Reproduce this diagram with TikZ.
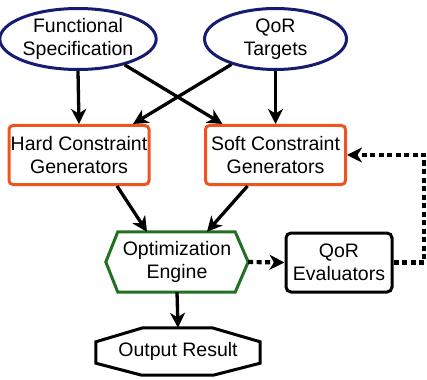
\documentclass[tikz,border=0pt]{standalone}
\usepackage{fontspec}
\setmainfont{Liberation Sans}
\usetikzlibrary{shapes.geometric,arrows.meta,calc}

\definecolor{navyline}{RGB}{24,28,112}
\definecolor{orangeline}{RGB}{240,84,30}
\definecolor{greenline}{RGB}{34,112,34}

\tikzset{
  lbl/.style={font=\fontsize{19.5}{23}\selectfont, align=center, inner sep=0pt},
  inputnode/.style={lbl, ellipse, draw=navyline, line width=3pt,
    minimum width=142pt, minimum height=61pt},
  genbox/.style={lbl, rectangle, rounded corners=4pt, draw=orangeline, line width=3pt,
    minimum width=140pt, minimum height=59pt},
  evalbox/.style={lbl, rectangle, rounded corners=5pt, draw=black, line width=3pt,
    minimum width=106pt, minimum height=59pt},
  plainbox/.style={lbl, minimum width=#1, minimum height=60pt},
  outline/.style={line width=3pt, line join=miter},
  flow/.style={line width=3.3pt, -{Stealth[length=15pt,width=15pt,inset=4.5pt]}},
  loopline/.style={line width=4.2pt, dash pattern=on 5pt off 3.5pt},
  looparrow/.style={loopline, -{Stealth[length=15pt,width=15pt,inset=4.5pt]}},
}

\begin{document}
\begin{tikzpicture}[x=1pt,y=-1pt]
  \useasboundingbox (0,0) rectangle (427,379);

  % inputs
  \node[inputnode] (func) at (78,39) {Functional\\Specification};
  \node[inputnode] (qor)  at (275.5,39) {QoR\\Targets};

  % constraint generators
  \node[genbox] (hard) at (79,155) {Hard Constraint\\Generators};
  \node[genbox] (soft) at (275.5,155) {Soft Constraint\\Generators};

  % optimization engine (hexagon drawn around its node)
  \node[plainbox=142pt] (opt) at (177,262) {Optimization\\Engine};
  \draw[outline, greenline]
    ([xshift=12pt]opt.north west) -- ([xshift=-13pt]opt.north east)
    -- (opt.east) -- ([xshift=-13pt]opt.south east)
    -- ([xshift=12pt]opt.south west) -- (opt.west) -- cycle;

  % evaluators
  \node[evalbox] (eval) at (339,262.5) {QoR\\Evaluators};

  % output (octagon drawn around its node)
  \node[lbl, minimum width=164pt, minimum height=47pt] (out) at (178,351.5) {Output Result};
  \draw[outline, black]
    ([xshift=47pt]out.north west) -- ([xshift=-48pt]out.north east)
    -- ([yshift=-14pt]out.north east) -- ([yshift=12pt]out.south east)
    -- ([xshift=-47pt]out.south east) -- ([xshift=46pt]out.south west)
    -- ([yshift=12pt]out.south west) -- ([yshift=-14pt]out.north west) -- cycle;

  % solid flow
  \draw[flow] (func.south) -- (hard.north);
  \draw[flow] (func.-29) -- ([xshift=-53pt]soft.north);
  \draw[flow] (qor.-150) -- ([xshift=54pt]hard.north);
  \draw[flow] (qor.south) -- (soft.north);
  \draw[flow] ([xshift=38pt]hard.south) -- ([xshift=-30pt]opt.north);
  \draw[flow] ([xshift=-28pt]soft.south) -- ([xshift=30pt]opt.north);
  \draw[flow] (opt.south) -- (out.north);

  % feedback loop
  \coordinate (turn) at (424,262.5);
  \draw[looparrow] (opt.east) -- (eval.west);
  \draw[looparrow] (eval.east) -- (turn) |- (soft.east);
\end{tikzpicture}
\end{document}
